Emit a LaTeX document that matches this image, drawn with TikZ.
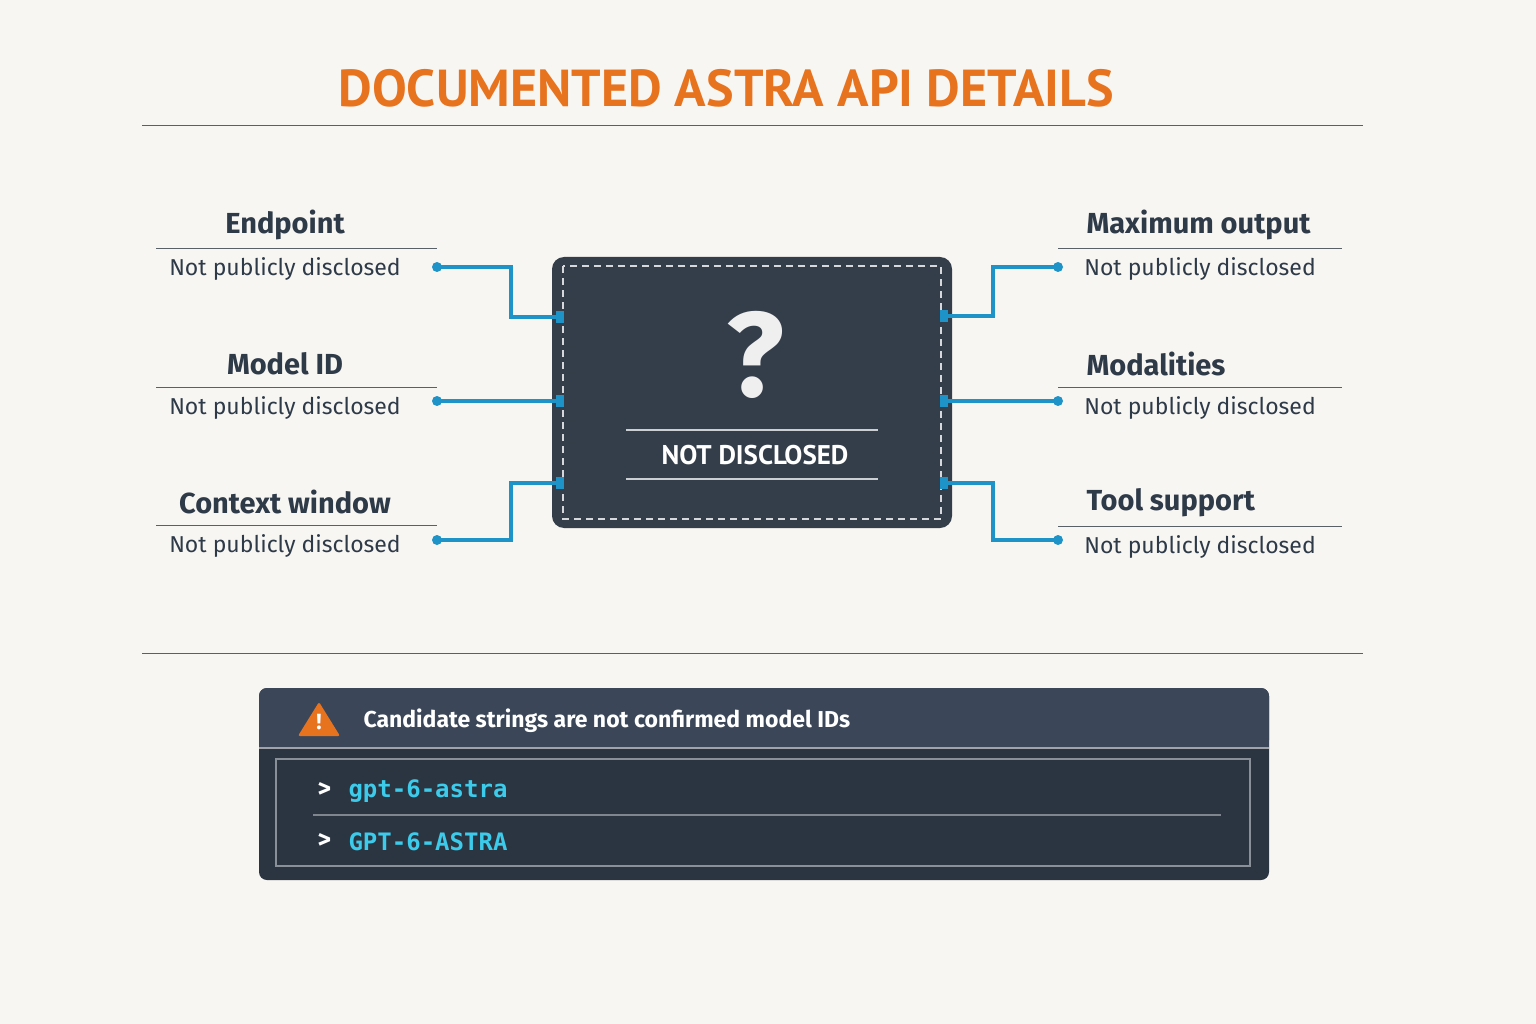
\documentclass[tikz,border=0pt]{standalone}
\usepackage{fontspec}
\setmainfont{Fira Sans}
\newfontfamily\titlefont{PT Sans}
\setmonofont{DejaVu Sans Mono}
\usetikzlibrary{positioning,calc}
\definecolor{bgcol}{HTML}{F8F6F3}
\definecolor{ink}{HTML}{2E3A48}
\definecolor{orng}{HTML}{E8731E}
\definecolor{wirecol}{HTML}{1E93C8}
\definecolor{boxcol}{HTML}{343E4A}
\definecolor{panel}{HTML}{2B3542}
\definecolor{panelhead}{HTML}{3B4758}
\definecolor{rulecol}{HTML}{5A6068}
\definecolor{cyantxt}{HTML}{3CCBEA}
\tikzset{
  head/.style={font=\fontsize{29}{32}\selectfont\bfseries, text=ink},
  sub/.style={font=\fontsize{23}{26}\selectfont, text=ink},
  rule/.style={rulecol, line width=0.9pt},
  dot/.style={circle, fill=wirecol, inner sep=0pt, minimum size=10pt},
  wire/.style={draw=wirecol, line width=3.5pt},
  code/.style={font=\fontsize{24}{26}\selectfont\ttfamily\bfseries, text=cyantxt, anchor=west}
}
% field label with its rule and value text
\newcommand{\fieldL}[4]{\node[head] (#1h) at (285,#2) {#3};
  \draw[rule] (156,#2+23) -- (437,#2+23);
  \node[sub] (#1v) at (285,#2+44) {#4};}
\newcommand{\fieldR}[4]{\node[head, anchor=west] (#1h) at (1083,#2) {#3};
  \draw[rule] (1058,#2+23) -- (1342,#2+23);
  \node[sub] (#1v) at (1200,#2+44) {#4};}
\begin{document}
\begin{tikzpicture}[x=1pt,y=-1pt]
\fill[bgcol] (0,0) rectangle (1536,1024);
\useasboundingbox (0,0) rectangle (1536,1024);
% title
\node[font=\fontsize{52}{56}\selectfont\titlefont\bfseries, text=orng] (title) at (726,88) {DOCUMENTED ASTRA API DETAILS};
\draw[rule] (142,125) -- (1363,125);
% centre box
\node[draw=none, fill=boxcol, rounded corners=12pt, minimum width=400pt, minimum height=271pt] (box) at (752,392.5) {};
\draw[white!80!boxcol, line width=1.8pt, dash pattern=on 7pt off 5pt] (563,266) rectangle (941,519);
\node[font=\fontsize{120}{120}\selectfont\bfseries, text=white!92!boxcol] (qm) at (755,355) {?};
\draw[white!75!boxcol, line width=1.5pt] (626,430) -- (878,430) (626,479) -- (878,479);
\node[font=\fontsize{27}{30}\selectfont\titlefont\bfseries, text=white] (nd) at (755,455) {NOT DISCLOSED};
% fields
\fieldL{ep}{225}{Endpoint}{Not publicly disclosed}
\fieldL{mid}{364}{Model ID}{Not publicly disclosed}
\fieldL{ctx}{502}{Context window}{Not publicly disclosed}
\fieldR{mo}{225}{Maximum output}{Not publicly disclosed}
\fieldR{mod}{364}{Modalities}{Not publicly disclosed}
\fieldR{ts}{503}{Tool support}{Not publicly disclosed}
% connectors
\node[dot] (d1) at (437,267) {};
\node[dot] (d2) at (437,401) {};
\node[dot] (d3) at (437,540) {};
\node[dot] (d4) at (1058,267) {};
\node[dot] (d5) at (1058,401) {};
\node[dot] (d6) at (1058,540) {};
\coordinate (p1) at (560,317);
\coordinate (p2) at (560,401);
\coordinate (p3) at (560,483);
\coordinate (p4) at (944,316);
\coordinate (p5) at (944,401);
\coordinate (p6) at (944,483);
\draw[wire] (d1.center) -- (511,267) |- (p1);
\draw[wire] (d2.center) -- (p2);
\draw[wire] (d3.center) -- (511,540) |- (p3);
\draw[wire] (d4.center) -- (993,267) |- (p4);
\draw[wire] (d5.center) -- (p5);
\draw[wire] (d6.center) -- (993,540) |- (p6);
\foreach \p in {p1,p2,p3,p4,p5,p6}
  \fill[wirecol] ($(\p)+(-4,-6)$) rectangle ($(\p)+(4,6)$);
\draw[rule] (142,653) -- (1363,653);
% bottom panel
\fill[panel, rounded corners=8pt] (259,688) rectangle (1269,880);
\fill[panelhead, rounded corners=8pt] (259,688) rectangle (1269,748);
\fill[panelhead] (259,720) rectangle (1269,748);
\draw[white!55!panel, line width=1.5pt] (259,748) -- (1269,748);
\fill[orng, rounded corners=2pt] (319,702) -- (340,736) -- (298,736) -- cycle;
\node[font=\fontsize{22}{22}\selectfont\bfseries, text=white] (warn) at (319,722) {!};
\node[font=\fontsize{23}{26}\selectfont\bfseries, text=white, anchor=west] (cap) at (360,721) {Candidate strings are not confirmed model IDs};
\draw[white!45!panel, line width=1.2pt] (276,759) rectangle (1250,866);
\draw[white!40!panel, line width=1.2pt] (313,815) -- (1221,815);
\node[font=\fontsize{26}{26}\selectfont\bfseries, text=white, anchor=west] (g1) at (314,790) {>};
\node[code] (s1) at (345,791) {gpt-6-astra};
\node[font=\fontsize{26}{26}\selectfont\bfseries, text=white, anchor=west] (g2) at (314,841) {>};
\node[code] (s2) at (345,842) {GPT-6-ASTRA};
\end{tikzpicture}
\end{document}
